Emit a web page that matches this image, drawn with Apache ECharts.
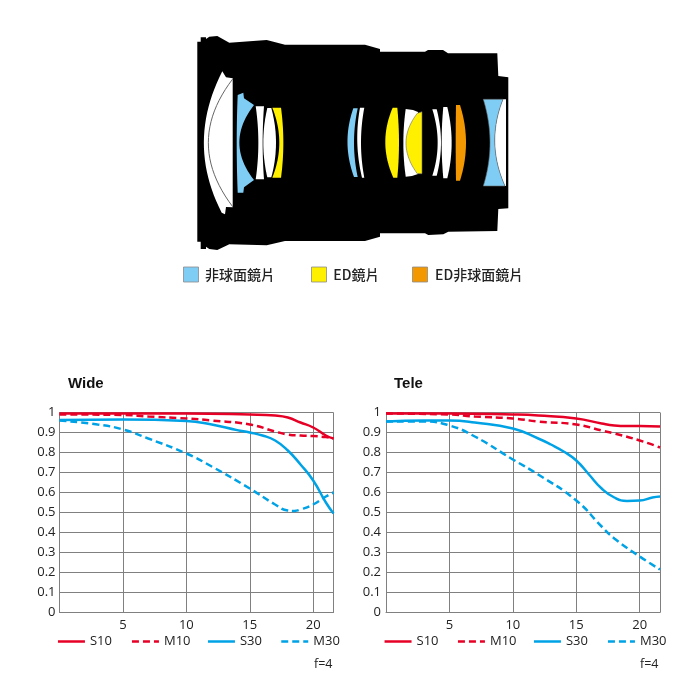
<!DOCTYPE html>
<html><head><meta charset="utf-8">
<style>html,body{margin:0;padding:0;background:#fff}#c{width:700px;height:700px}</style>
<script src="https://cdn.jsdelivr.net/npm/echarts@6/dist/echarts.min.js"></script>
</head><body><div id="c"></div>
<script>
const seriesNames = ['S10','M10','S30','M30'];
const chartTitles = ['Wide','Tele'];
const apertureNote = 'f=4';
const lensKeyLabels = ['非球面鏡片','ED鏡片','ED非球面鏡片'];
const yTickLabels = ['0','0.1','0.2','0.3','0.4','0.5','0.6','0.7','0.8','0.9','1'];

const wideS10 = [[0,.995],[5,.995],[10,.995],[15,.99],[17,.985],[18,.975],[19,.95],[20,.925],[21,.885],[21.6,.87]];
const wideM10 = [[0,.99],[5,.988],[7,.98],[10,.97],[12,.96],[15,.94],[17,.905],[18,.89],[19,.885],[20,.882],[21,.877],[21.6,.87]];
const wideS30 = [[0,.963],[5,.965],[10,.958],[12,.94],[14,.912],[15,.9],[16,.885],[17,.86],[18,.81],[19,.74],[20,.66],[21,.55],[21.6,.495]];
const wideM30 = [[0,.96],[3,.94],[5,.915],[7,.87],[10,.795],[12,.73],[15,.62],[17,.54],[18,.51],[18.5,.508],[19,.515],[20,.54],[21,.58],[21.6,.6]];

const teleS10 = [[0,.995],[5,.995],[10,.99],[12,.985],[15,.97],[17,.945],[18,.935],[19,.932],[20,.932],[21.6,.93]];
const teleM10 = [[0,.995],[5,.99],[7,.98],[10,.97],[12,.955],[15,.94],[17,.91],[18,.895],[20,.86],[21.6,.825]];
const teleS30 = [[0,.955],[3,.96],[5,.96],[7,.95],[10,.92],[12,.87],[13,.84],[14,.805],[15,.76],[16,.69],[17,.62],[18,.575],[19,.558],[20,.56],[21,.575],[21.6,.58]];
const teleM30 = [[0,.955],[3,.955],[5,.935],[7,.88],[10,.765],[12,.69],[15,.56],[17,.43],[18,.37],[20,.28],[21.6,.215]];

const panels = [[wideS10,wideM10,wideS30,wideM30],[teleS10,teleM10,teleS30,teleM30]];

const RED='#e60026', BLUE='#00a2e6', SKY='#7fcdf5', YEL='#fff000', ORG='#f39800', EDGE='#666';
const FONT='"Open Sans","Noto Sans",sans-serif';
const grids=[{left:59.5,width:274,top:412.5,height:200},{left:386,width:274,top:412.5,height:200}];
const legendX=[[56.7,130.7,206.7,280],[383.3,456.7,532.7,606.7]];
const styleFor=[{c:RED,d:'solid'},{c:RED,d:[7,4]},{c:BLUE,d:'solid'},{c:BLUE,d:[7,4]}];

const lensShapes=[
 {d:'M197.3 41.7L200.7 41.7L200.7 37.3L206 37.3L206 39L209.3 36.7L217.3 36L229.3 42.7L266.7 40L285 44.7L365 44.7L380 49L380 51.7L425 51.7L428 50L443 50L448 53.3L497.3 53.3L498.3 76L508.3 77.3L508.3 208.3L498.3 209L497.3 231L448.3 231.7L443.3 234.3L428.3 235L425 233.3L380 233.3L380 236.7L365 241L285 241L266.7 245.3L229.3 244.3L217.3 250L209.3 249L206 246.7L206 249L200.7 249L200.7 241.7L197.3 241.7Z',f:'#000'},
 {d:'M222.3 71.3L226 77.3L232.7 78.3L232.7 207.3L226 207L225 214.3L221.7 212.7Q185.7 142.7 222.3 71.3Z',f:'#fff'},
 {d:'M232.7 79Q184 142.7 232.7 206.7',f:'none',s:EDGE,w:1},
 {d:'M237.7 95L243.3 92.7L244 98.3L254 105Q224.7 142.7 254 180L244 187.3L243.3 192.7L237.7 192.7Q235.7 142.7 237.7 95Z',f:SKY},
 {d:'M255.7 106.3L264 106.3Q261.3 142.7 264 179.3L255.7 179.3Q261 142.7 255.7 106.3Z',f:'#fff'},
 {d:'M267.3 108L271.3 108Q280.7 142.7 271.3 177.3L267.3 177.3Q259.3 142.7 267.3 108Z',f:'#fff'},
 {d:'M272.3 107.7L281 107.7Q285.7 142.7 281 177.7L272.3 177.7Q286.3 142.7 272.3 107.7Z',f:YEL},
 {d:'M353.3 108.3L357.7 108.3Q350.3 142.7 357.7 177L354 177Q341.3 142.7 353.3 108.3Z',f:SKY},
 {d:'M360 107.7L364.3 107.7Q357.7 142.7 364.3 177.7L362 177.7Q353.6 142.7 360 107.7Z',f:'#fff'},
 {d:'M392.7 107.7L397.3 107.7Q400.7 142.7 397.3 177.7L393.3 177.7Q377.6 142.7 392.7 107.7Z',f:YEL},
 {d:'M405.7 109L413 110L418 112L418 174L412 176L405.7 176.7Q401 142.7 405.7 109Z',f:'#fff'},
 {d:'M422 111.7L422 173.7L417.3 173.7Q394.7 142.7 417.3 113.3Z',f:YEL,s:EDGE,w:.6},
 {d:'M432.3 109.3L436.7 109.3Q445.3 142.7 436.7 175.7L432.3 175.7Q443 142.7 432.3 109.3Z',f:'#fff'},
 {d:'M443.3 107L447.3 107Q456 142.7 447.3 178.3L443.3 178.3Q440 142.7 443.3 107Z',f:'#fff'},
 {d:'M456 105L460 105Q472 142.7 460 180.7L456 180.7Q455.4 142.7 456 105Z',f:ORG},
 {d:'M503 99.3L506 99.3L506 186L505 186Q485.6 142.7 503 99.3Z',f:'#fff'},
 {d:'M483.3 99.3L503 99.3Q485.6 142.7 505 186L483.3 186Q496.7 142.7 483.3 99.3Z',f:SKY,s:EDGE,w:.6}
];
const keyBoxes=[{x:183.5,c:SKY,t:205},{x:311.5,c:YEL,t:333.3},{x:412.5,c:ORG,t:435}];

function outline(d){
  const pts=[]; const re=/([MLQ])([^MLQZ]*)/g; let m;
  while((m=re.exec(d))){
    const n=m[2].trim().split(/\s+/).map(Number);
    if(m[1]==='Q'){
      const p0=pts[pts.length-1];
      for(let k=1;k<=24;k++){const t=k/24,u=1-t;
        pts.push([u*u*p0[0]+2*u*t*n[0]+t*t*n[2],u*u*p0[1]+2*u*t*n[1]+t*t*n[3]]);}
    } else pts.push([n[0],n[1]]);
  }
  return pts;
}

const graphics=[];
lensShapes.forEach(p=>{
  const open=p.f==='none';
  graphics.push({type:open?'polyline':'polygon',silent:true,shape:{points:outline(p.d)},
    style:open?{stroke:p.s,lineWidth:p.w,fill:null}:{fill:p.f,stroke:p.s||null,lineWidth:p.w||0}});
});
keyBoxes.forEach((k,i)=>{
  graphics.push({type:'rect',shape:{x:k.x,y:267,width:15,height:15},style:{fill:k.c,stroke:'#8a8a8a',lineWidth:.8}});
  graphics.push({type:'text',style:{text:lensKeyLabels[i],x:k.t,y:274.7,fill:'#222',
    font:'500 14px "Noto Sans CJK TC",sans-serif',textVerticalAlign:'middle'}});
});

const titles=[], legends=[], series=[], xAxes=[], yAxes=[];
const grid=grids.map(g=>Object.assign({containLabel:false},g));
panels.forEach((vals,p)=>{
  titles.push({text:chartTitles[p],left:p?394:68,top:376,padding:0,
    textStyle:{fontFamily:'"Liberation Sans",sans-serif',fontSize:15,fontWeight:'bold',color:'#111'}});
  titles.push({text:apertureNote,left:p?640:314,top:658,padding:0,
    textStyle:{fontFamily:FONT,fontSize:12.5,fontWeight:'normal',color:'#222'}});
  xAxes.push({type:'value',gridIndex:p,min:0,max:21.6,interval:5,
    axisLine:{show:true,onZero:false,lineStyle:{color:'#808080',width:1}},axisTick:{show:false},
    axisLabel:{margin:6,color:'#222',fontFamily:FONT,fontSize:13,showMinLabel:false,showMaxLabel:false,
      formatter:v=>(v>0&&v%5===0)?String(v):''},
    splitLine:{show:true,lineStyle:{color:'#808080',width:1}}});
  yAxes.push({type:'value',gridIndex:p,min:0,max:1,interval:.1,
    axisLine:{show:true,lineStyle:{color:'#808080',width:1}},axisTick:{show:false},
    axisLabel:{margin:p?5:4,color:'#222',fontFamily:FONT,fontSize:13,
      formatter:v=>yTickLabels[Math.round(v*10)]},
    splitLine:{show:true,lineStyle:{color:'#808080',width:1}}});
  seriesNames.forEach((n,i)=>{
    series.push({name:n,type:'line',xAxisIndex:p,yAxisIndex:p,data:vals[i],symbol:'none',
      smooth:.5,silent:true,animation:false,
      lineStyle:{color:styleFor[i].c,width:2.5,type:styleFor[i].d},itemStyle:{color:styleFor[i].c}});
    legends.push({data:[n],left:legendX[p][i],top:635,padding:0,itemWidth:27,itemHeight:1,
      selectedMode:false,lineStyle:{width:2.5},textStyle:{color:'#222',fontFamily:FONT,fontSize:13}});
  });
});

echarts.init(document.getElementById('c'),null,{renderer:'canvas'}).setOption({
  animation:false,backgroundColor:'#fff',title:titles,legend:legends,grid,xAxis:xAxes,yAxis:yAxes,series,graphic:graphics
});
</script></body></html>
